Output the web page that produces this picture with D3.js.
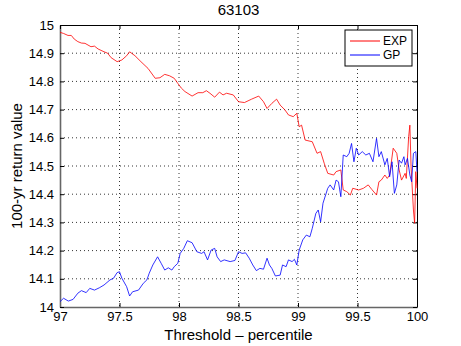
<!DOCTYPE html>
<html lang="en">
<head>
<meta charset="utf-8">
<title>63103</title>
<script src="https://d3js.org/d3.v7.min.js"></script>
<style>
  body { margin: 0; background: #fff; }
  text { font-family: "Liberation Sans", Arial, sans-serif; fill: #000; }
</style>
</head>
<body>
<div id="chart"></div>
<script>
// values
const xTicks = [97, 97.5, 98, 98.5, 99, 99.5, 100];
const yTicks = [14, 14.1, 14.2, 14.3, 14.4, 14.5, 14.6, 14.7, 14.8, 14.9, 15];
const seriesNames = ["EXP", "GP"];
const seriesColors = ["#ff0000", "#0000ff"];

const expX = [97.00, 97.03, 97.067, 97.095, 97.12, 97.15, 97.18, 97.21, 97.26, 97.29, 97.32, 97.37, 97.40, 97.43, 97.48, 97.52, 97.56, 97.585, 97.63, 97.68, 97.74, 97.80, 97.84, 97.88, 97.92, 97.96, 97.99, 98.02, 98.05, 98.11, 98.16, 98.20, 98.23, 98.26, 98.30, 98.34, 98.37, 98.40, 98.456, 98.50, 98.55, 98.61, 98.67, 98.71, 98.74, 98.78, 98.82, 98.85, 98.89, 98.92, 98.96, 98.99, 99.01, 99.03, 99.06, 99.12, 99.16, 99.19, 99.22, 99.25, 99.30, 99.32, 99.36, 99.38, 99.41, 99.44, 99.46, 99.51, 99.55, 99.59, 99.62, 99.66, 99.68, 99.70, 99.73, 99.75, 99.77, 99.80, 99.83, 99.85, 99.87, 99.90, 99.91, 99.93, 99.94, 99.95, 99.97, 99.98, 99.99, 100.0];
const expY = [14.974, 14.970, 14.963, 14.963, 14.950, 14.941, 14.936, 14.935, 14.923, 14.925, 14.915, 14.905, 14.900, 14.884, 14.870, 14.876, 14.891, 14.905, 14.891, 14.870, 14.846, 14.811, 14.813, 14.825, 14.820, 14.811, 14.793, 14.776, 14.764, 14.748, 14.760, 14.760, 14.767, 14.758, 14.744, 14.762, 14.752, 14.758, 14.752, 14.728, 14.725, 14.737, 14.748, 14.728, 14.704, 14.722, 14.737, 14.716, 14.699, 14.681, 14.675, 14.687, 14.639, 14.645, 14.592, 14.586, 14.545, 14.551, 14.510, 14.474, 14.468, 14.480, 14.486, 14.415, 14.409, 14.397, 14.421, 14.415, 14.421, 14.433, 14.417, 14.397, 14.444, 14.450, 14.468, 14.456, 14.468, 14.563, 14.545, 14.486, 14.450, 14.474, 14.456, 14.604, 14.645, 14.498, 14.344, 14.297, 14.480, 14.421];

const gpX = [97.00, 97.03, 97.07, 97.11, 97.15, 97.18, 97.22, 97.25, 97.29, 97.33, 97.37, 97.42, 97.45, 97.48, 97.50, 97.52, 97.56, 97.585, 97.61, 97.66, 97.70, 97.73, 97.75, 97.78, 97.82, 97.85, 97.88, 97.91, 97.94, 97.96, 97.99, 98.01, 98.04, 98.07, 98.11, 98.15, 98.19, 98.21, 98.24, 98.27, 98.30, 98.32, 98.35, 98.38, 98.43, 98.47, 98.50, 98.53, 98.56, 98.59, 98.62, 98.65, 98.68, 98.71, 98.74, 98.76, 98.78, 98.81, 98.85, 98.87, 98.90, 98.92, 98.95, 98.97, 98.99, 99.01, 99.04, 99.07, 99.10, 99.12, 99.15, 99.17, 99.19, 99.21, 99.25, 99.27, 99.30, 99.32, 99.34, 99.36, 99.38, 99.41, 99.43, 99.45, 99.47, 99.49, 99.51, 99.54, 99.57, 99.60, 99.63, 99.66, 99.68, 99.70, 99.73, 99.75, 99.77, 99.79, 99.81, 99.83, 99.85, 99.87, 99.89, 99.90, 99.92, 99.94, 99.955, 99.97, 99.99, 100.0];
const gpY = [14.019, 14.031, 14.021, 14.027, 14.049, 14.058, 14.051, 14.066, 14.060, 14.068, 14.078, 14.096, 14.102, 14.122, 14.125, 14.102, 14.072, 14.039, 14.054, 14.060, 14.084, 14.096, 14.120, 14.149, 14.178, 14.155, 14.131, 14.139, 14.131, 14.143, 14.155, 14.190, 14.208, 14.235, 14.228, 14.196, 14.190, 14.196, 14.167, 14.202, 14.208, 14.178, 14.161, 14.167, 14.161, 14.165, 14.196, 14.190, 14.192, 14.173, 14.149, 14.129, 14.137, 14.134, 14.173, 14.149, 14.137, 14.110, 14.113, 14.149, 14.143, 14.167, 14.161, 14.169, 14.149, 14.202, 14.238, 14.255, 14.249, 14.279, 14.332, 14.344, 14.302, 14.368, 14.421, 14.433, 14.415, 14.450, 14.444, 14.391, 14.539, 14.533, 14.545, 14.580, 14.515, 14.563, 14.539, 14.551, 14.539, 14.545, 14.515, 14.598, 14.533, 14.551, 14.504, 14.527, 14.462, 14.515, 14.403, 14.433, 14.521, 14.510, 14.533, 14.504, 14.527, 14.468, 14.444, 14.545, 14.551, 14.480];

const margin = {top: 25, right: 44, bottom: 39, left: 60},
    width = 461 - margin.left - margin.right,
    height = 346 - margin.top - margin.bottom;

const svg = d3.select("#chart")
  .append("svg")
    .attr("width", 461)
    .attr("height", 346)
  .append("g")
    .attr("transform", `translate(${margin.left},${margin.top})`);

const x = d3.scaleLinear().domain([97, 100]).range([0, width]);
const y = d3.scaleLinear().domain([14, 15]).range([height, 0]);

// dotted grid
svg.append("g")
  .selectAll("line")
  .data(xTicks.slice(1, -1))
  .join("line")
    .attr("x1", d => x(d)).attr("x2", d => x(d))
    .attr("y1", 0).attr("y2", height)
    .attr("stroke", "#000").attr("stroke-width", 0.8)
    .attr("stroke-dasharray", "1,3");
svg.append("g")
  .selectAll("line")
  .data(yTicks.slice(1, -1))
  .join("line")
    .attr("x1", 0).attr("x2", width)
    .attr("y1", d => y(d)).attr("y2", d => y(d))
    .attr("stroke", "#000").attr("stroke-width", 0.8)
    .attr("stroke-dasharray", "1,3");

// axes, MATLAB style inward ticks
const xAxis = svg.append("g")
  .attr("transform", `translate(0,${height})`)
  .call(d3.axisBottom(x).tickValues(xTicks).tickFormat(d3.format("")).tickSizeInner(-4).tickSizeOuter(0).tickPadding(5));
const yAxis = svg.append("g")
  .call(d3.axisLeft(y).tickValues(yTicks).tickFormat(d3.format("")).tickSizeInner(-4).tickSizeOuter(0).tickPadding(6));
svg.append("g")
  .call(d3.axisTop(x).tickValues(xTicks).tickFormat("").tickSizeInner(-4).tickSizeOuter(0));
svg.append("g")
  .attr("transform", `translate(${width},0)`)
  .call(d3.axisRight(y).tickValues(yTicks).tickFormat("").tickSizeInner(-4).tickSizeOuter(0));

svg.selectAll(".domain").attr("stroke", "#000");
svg.selectAll(".tick line").attr("stroke", "#000");
xAxis.selectAll("text").style("font-size", "13px");
yAxis.selectAll("text").style("font-size", "13px");
xAxis.select(".domain").attr("stroke", "#666").attr("stroke-width", 1.6);
yAxis.select(".domain").attr("stroke", "#666").attr("stroke-width", 1.6);

// lines
const line = d3.line()
  .x(d => x(d[0]))
  .y(d => y(d[1]));

const series = [
  d3.zip(expX, expY),
  d3.zip(gpX, gpY)
];

svg.selectAll(".series")
  .data(series)
  .join("path")
    .attr("class", "series")
    .attr("fill", "none")
    .attr("stroke", (d, i) => seriesColors[i])
    .attr("stroke-width", 0.8)
    .attr("d", line);

// title and labels
svg.append("text")
  .attr("x", width / 2).attr("y", -10)
  .attr("text-anchor", "middle")
  .style("font-size", "15px")
  .text("63103");

svg.append("text")
  .attr("x", width / 2).attr("y", height + 33)
  .attr("text-anchor", "middle")
  .style("font-size", "15px")
  .text("Threshold \u2013 percentile");

svg.append("text")
  .attr("transform", `translate(-38,${height / 2}) rotate(-90)`)
  .attr("text-anchor", "middle")
  .style("font-size", "15px")
  .text("100-yr return value");

// legend
const legend = svg.append("g").attr("transform", `translate(${width - 72},5)`);
legend.append("rect")
  .attr("width", 67).attr("height", 36)
  .attr("fill", "#fff")
  .attr("stroke", "#000").attr("stroke-width", 1);
seriesNames.forEach((name, i) => {
  legend.append("line")
    .attr("x1", 5).attr("x2", 35)
    .attr("y1", 11 + i * 14).attr("y2", 11 + i * 14)
    .attr("stroke", seriesColors[i]).attr("stroke-width", 1);
  legend.append("text")
    .attr("x", 38).attr("y", 11 + i * 14)
    .attr("dy", "0.35em")
    .style("font-size", "12px")
    .text(name);
});
</script>
</body>
</html>
